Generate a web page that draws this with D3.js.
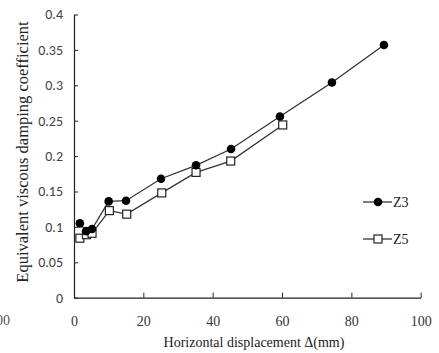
<!DOCTYPE html>
<html>
<head>
<meta charset="utf-8">
<script src="https://cdn.jsdelivr.net/npm/d3@7"></script>
<style>
  body { margin: 0; background: #fff; }
  svg { display: block; }
</style>
</head>
<body>
<script>
// données
const dispZ3 = [1.7, 3.5, 5.2, 10, 15, 25.1, 35.2, 45.3, 59.4, 74.4, 89.4];
const coefZ3 = [0.105, 0.094, 0.097, 0.136, 0.137, 0.168, 0.187, 0.210, 0.256, 0.304, 0.357];
const dispZ5 = [1.7, 3.6, 5.2, 10.2, 15.2, 25.3, 35.2, 45.2, 60.2];
const coefZ5 = [0.084, 0.089, 0.091, 0.123, 0.118, 0.148, 0.177, 0.193, 0.244];
const xTicks = [0, 20, 40, 60, 80, 100];
const yTicks = [0, 0.05, 0.1, 0.15, 0.2, 0.25, 0.3, 0.35, 0.4];
const yTickLabels = ["0", "0.05", "0.1", "0.15", "0.2", "0.25", "0.3", "0.35", "0.4"];

const W = 439, H = 353;
const svg = d3.select('body').append('svg')
  .attr('width', W).attr('height', H);

const x = d3.scaleLinear().domain([0, 100]).range([74, 420.7]);
const y = d3.scaleLinear().domain([0, 0.4]).range([297.7, 14.5]);

const ink = '#222';
const serif = '"Liberation Serif", "Times New Roman", serif';
const sans = 'Carlito, "Open Sans", "Noto Sans", sans-serif';

// axe x (graduations vers l'intérieur)
const axeX = svg.append('g')
  .attr('transform', `translate(0,${y(0)})`)
  .call(d3.axisBottom(x).tickValues(xTicks).tickSizeInner(-5).tickSizeOuter(0).tickFormat(d3.format('d')));
axeX.select('.domain').attr('stroke', ink).attr('stroke-width', 1.2);
axeX.selectAll('.tick line').attr('stroke', ink).attr('stroke-width', 1);
axeX.selectAll('.tick text')
  .attr('y', 18).attr('dy', '0.71em')
  .attr('font-family', serif).attr('font-size', 14).attr('fill', '#333');

// axe y
const axeY = svg.append('g')
  .attr('transform', `translate(${x(0)},0)`)
  .call(d3.axisLeft(y).tickValues(yTicks).tickSizeInner(-4).tickSizeOuter(0)
    .tickFormat((d, i) => yTickLabels[i]));
axeY.select('.domain').attr('stroke', ink).attr('stroke-width', 1.2);
axeY.selectAll('.tick line').attr('stroke', ink).attr('stroke-width', 1);
axeY.selectAll('.tick text')
  .attr('x', -11)
  .attr('font-family', sans).attr('font-size', 14).attr('fill', '#444');

// titres des axes
svg.append('text')
  .attr('x', 254).attr('y', 347)
  .attr('text-anchor', 'middle')
  .attr('font-family', serif).attr('font-size', 14).attr('fill', '#222')
  .text('Horizontal displacement Δ(mm)');
svg.append('text')
  .attr('transform', 'translate(28,152) rotate(-90)')
  .attr('text-anchor', 'middle')
  .attr('font-family', serif).attr('font-size', 16.5).attr('fill', '#222')
  .text('Equivalent viscous damping coefficient');

// reste d'une étiquette du graphique voisin
svg.append('text')
  .attr('x', 10).attr('y', 325)
  .attr('text-anchor', 'end')
  .attr('font-family', serif).attr('font-size', 14).attr('fill', '#555')
  .text('100');

// courbes
const ligne = d3.line().x(d => x(d[0])).y(d => y(d[1]));
const ptsZ3 = dispZ3.map((d, i) => [d, coefZ3[i]]);
const ptsZ5 = dispZ5.map((d, i) => [d, coefZ5[i]]);

svg.append('path').attr('d', ligne(ptsZ3))
  .attr('fill', 'none').attr('stroke', '#333').attr('stroke-width', 1.3);
svg.append('path').attr('d', ligne(ptsZ5))
  .attr('fill', 'none').attr('stroke', '#333').attr('stroke-width', 1.3);

svg.selectAll('.z5').data(ptsZ5).enter().append('rect')
  .attr('class', 'z5')
  .attr('x', d => x(d[0]) - 4).attr('y', d => y(d[1]) - 4)
  .attr('width', 8).attr('height', 8)
  .attr('fill', '#fff').attr('stroke', '#222').attr('stroke-width', 1.2);

svg.selectAll('.z3').data(ptsZ3).enter().append('circle')
  .attr('class', 'z3')
  .attr('cx', d => x(d[0])).attr('cy', d => y(d[1]))
  .attr('r', 4.3).attr('fill', '#000');

// légende
const legende = svg.append('g');
[['Z3', 202], ['Z5', 239]].forEach(([nom, ly]) => {
  legende.append('line')
    .attr('x1', 363).attr('x2', 392).attr('y1', ly).attr('y2', ly)
    .attr('stroke', '#333').attr('stroke-width', 1.3);
  if (nom === 'Z3') {
    legende.append('circle').attr('cx', 378).attr('cy', ly).attr('r', 4.3).attr('fill', '#000');
  } else {
    legende.append('rect').attr('x', 374).attr('y', ly - 4).attr('width', 8).attr('height', 8)
      .attr('fill', '#fff').attr('stroke', '#222').attr('stroke-width', 1.2);
  }
  legende.append('text')
    .attr('x', 393).attr('y', ly).attr('dy', '0.35em')
    .attr('font-family', serif).attr('font-size', 14).attr('fill', '#222')
    .text(nom);
});
</script>
</body>
</html>
